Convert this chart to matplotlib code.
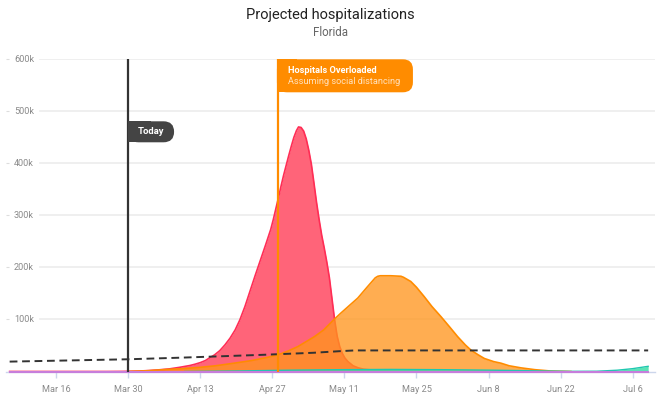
import numpy as np
import pandas as pd
import matplotlib
matplotlib.use('Agg')
import matplotlib.pyplot as plt
import matplotlib.dates as mdates
from matplotlib.patches import FancyBboxPatch, Rectangle
from matplotlib.transforms import IdentityTransform

plt.rcParams['font.family'] = ['Roboto', 'DejaVu Sans']

# day offsets are counted from Mar 16, values in thousands
base_date = '2020-03-16'

red_days = [-9, 10, 13, 16, 18, 20, 22, 24, 26, 27, 28, 29, 29.8, 30.8, 31.8, 32.8, 33.8, 34.8, 35.7,
            36.7, 37.7, 38.7, 39.7, 40.7, 41.7, 42.2, 42.7, 43.2, 43.7, 44.2, 44.7, 45.2, 45.7, 46.2,
            46.7, 47.1, 47.6, 48.1, 48.6, 49.1, 49.6, 50.1, 50.6, 51.1, 51.6, 52.1, 52.6, 53.1, 53.6,
            54.1, 54.6, 55.1, 55.6, 56.1, 56.7, 57.7, 58.7, 59.7, 62, 65, 68, 72]
red_k = [0, 0, 0.2, 0.8, 1.8, 3.2, 5, 8, 11.5, 14, 17, 21, 26, 32, 40, 51, 64, 80, 99, 125, 155, 185, 214,
         243, 273, 292, 313, 334, 356, 377, 396, 415, 433, 450, 463, 470, 469, 462, 447, 425, 398,
         362, 325, 292, 262, 237, 210, 180, 140, 100, 68, 48, 35, 26, 19, 11, 7, 4.5, 2.2, 1, 0.3, 0]

orange_days = [14, 18, 21.7, 24, 28, 31, 34.6, 38, 41, 43.1, 45, 47, 50.2, 52, 54, 55.3, 57, 58.6, 60.5,
               62, 62.5, 63, 65, 67, 67.5, 68.9, 70, 71.5, 73, 74.8, 76.5, 78, 79.5, 80.6, 82, 83.2, 85,
               86.4, 88, 90.3, 93, 96, 100]
orange_k = [0, 1.5, 4, 5, 8, 11, 16, 21, 27, 32, 39, 48, 67, 80, 100, 112, 127, 141, 163,
            180, 183, 184, 184, 183, 181, 173, 162, 144, 125, 105, 85, 67, 51, 41, 32, 25, 19,
            16, 11, 7, 3.5, 1, 0]

teal_days = [25, 35, 45, 55, 65, 75, 85, 95, 100, 105, 109, 112, 115]
teal_k = [0, 1, 2.5, 3.5, 4, 3.5, 2.5, 1, 0.3, 0.5, 2.5, 5.5, 10]

base_days = [-9, 115]
base_k = [0, 0]

beds_days = [-9, 14, 24, 40, 50, 55, 58, 115]
beds_k = [19, 23.5, 26.5, 32, 36, 39, 40.5, 40.5]

today_day = 14        # Mar 30
overload_day = 43.1   # Apr 28
tick_days = [0, 14, 28, 42, 56, 70, 84, 98, 112]
y_ticks = [100, 200, 300, 400, 500, 600]
y_labels = ['100k', '200k', '300k', '400k', '500k', '600k']

t0 = mdates.date2num(pd.Timestamp(base_date))
def dx(d):
    return t0 + np.asarray(d, dtype=float)

fig = plt.figure(figsize=(6.6, 3.99), dpi=100)
ax = fig.add_axes([6/660, 27.5/399, 649/660, 312.2/399])
ax.set_xlim(dx(-9.71), dx(116.33))
ax.set_ylim(0, 600)

for s in ['top', 'right', 'left']:
    ax.spines[s].set_visible(False)
ax.spines['bottom'].set_color('#ccd6eb')
ax.spines['bottom'].set_linewidth(1.0)

gx = (40 - 6) / 649
for v in y_ticks:
    ax.axhline(v, xmin=gx, xmax=1, color='#ececec', lw=1.2, zorder=0)
    ax.text(8/649, v, y_labels[y_ticks.index(v)], transform=ax.get_yaxis_transform(),
            ha='left', va='center', fontsize=6.6, color='#8a8a8a')
ax.set_yticks(y_ticks)
ax.tick_params(axis='y', direction='in', length=2, color='#dddddd', labelleft=False)

ax.set_xticks(dx(tick_days))
ax.xaxis.set_major_formatter(mdates.DateFormatter('%b %-d'))
ax.tick_params(axis='x', length=4, color='#ccd6eb', width=1, pad=5.5, labelsize=6.6, labelcolor='#8a8a8a')

# series
ax.fill_between(dx(red_days), red_k, color='#ff6479', lw=0, zorder=2)
ax.plot(dx(red_days), red_k, color='#ff2d55', lw=1.2, zorder=2.1)
ax.fill_between(dx(orange_days), orange_k, color='#ff951c', alpha=0.77, lw=0, zorder=3)
ax.plot(dx(orange_days), orange_k, color='#ff8c00', lw=1.2, zorder=3.1)
ax.fill_between(dx(teal_days), teal_k, color='#3ee0a8', alpha=0.85, lw=0, zorder=4)
ax.plot(dx(teal_days), teal_k, color='#1fc8b0', lw=1, zorder=4.1)
ax.plot(dx(base_days), base_k, color='#c77ddb', lw=1.5, zorder=4.2, clip_on=False)
bl, = ax.plot(dx(beds_days), beds_k, color='#333333', lw=1.4, zorder=5)
bl.set_dashes([4, 2.4])

# markers for today / overload
ax.vlines(dx(today_day), 0, 600, color='#333333', lw=1.6, zorder=6)
ax.vlines(dx(overload_day), 0, 600, color='#ff8c00', lw=1.6, zorder=6)

ident = IdentityTransform()
tx, ty = ax.transData.transform((dx(today_day), 600))
top600 = ty
# Today pill
pw, ph = 46, 21
py = top600 - 62
ax.add_patch(FancyBboxPatch((tx, py - ph), pw, ph, boxstyle='round,pad=0,rounding_size=10.5',
                            fc='#444444', ec='none', transform=ident, zorder=7, clip_on=False))
ax.add_patch(Rectangle((tx, py - ph), pw / 2, ph, fc='#444444', ec='none', transform=ident,
                       zorder=7, clip_on=False))
fig.text((tx + 22.5) / 660, (py - ph / 2) / 399, 'Today', ha='center', va='center',
         fontsize=6.8, fontweight='bold', color='white', zorder=8)

ox, _ = ax.transData.transform((dx(overload_day), 600))
bw, bh = 136, 33
ax.add_patch(FancyBboxPatch((ox - 1, top600 - bh), bw, bh, boxstyle='round,pad=0,rounding_size=10',
                            fc='#ff8c00', ec='none', transform=ident, zorder=7, clip_on=False))
ax.add_patch(Rectangle((ox - 1, top600 - bh), 20, bh, fc='#ff8c00', ec='none', transform=ident,
                       zorder=7, clip_on=False))
fig.text((ox + 10) / 660, (top600 - 11) / 399, 'Hospitals Overloaded', ha='left', va='center',
         fontsize=6.7, fontweight='bold', color='white', zorder=8)
fig.text((ox + 10) / 660, (top600 - 22.5) / 399, 'Assuming social distancing', ha='left', va='center',
         fontsize=6.6, color='#ffe2bf', zorder=8)

fig.text(0.5, 1 - 15/399, 'Projected hospitalizations', ha='center', va='center', fontsize=10.5, color='#222222')
fig.text(0.5, 1 - 33/399, 'Florida', ha='center', va='center', fontsize=8.3, color='#666666')

fig.savefig('out.png', dpi=100)
